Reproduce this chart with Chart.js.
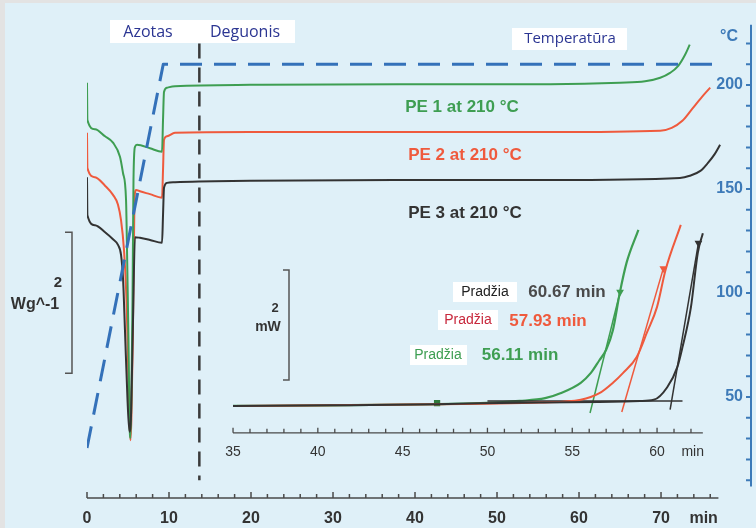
<!DOCTYPE html>
<html>
<head>
<meta charset="utf-8">
<script src="https://cdn.jsdelivr.net/npm/chart.js@4.4.1/dist/chart.umd.min.js"></script>
<style>
  html, body { margin: 0; padding: 0; background: #e3e3e3; }
  canvas { display: block; }
</style>
</head>
<body>
<canvas id="dsc" width="756" height="528"></canvas>
<script>
"use strict";

/* ---------------- data ---------------- */
// main run: time in min, heat flow in W/g (arbitrary offset per curve)
const pe1Time = [0, 0.05, 0.98, 2.2, 3.17, 4.02, 4.39, 4.76, 4.9, 5.06, 5.18, 5.3, 5.41, 5.55, 5.67, 5.85, 6.1, 7.68, 9.15, 9.27, 9.39, 9.76, 10.73, 19.9, 38.2, 56.5, 65.0, 68.05, 69.9, 71.1, 72.1, 72.9, 73.5];
const pe1Heat = [5.89, 5.36, 5.23, 5.13, 5.04, 4.84, 4.61, 4.23, 3.38, 2.24, 1.11, 0.85, 1.39, 2.81, 4.51, 4.98, 5.01, 4.96, 4.91, 5.36, 5.76, 5.82, 5.84, 5.86, 5.87, 5.87, 5.89, 5.91, 5.96, 6.03, 6.13, 6.28, 6.43];
const pe2Time = [0, 0.05, 0.98, 2.2, 3.17, 3.78, 4.15, 4.51, 4.82, 5.0, 5.18, 5.3, 5.41, 5.6, 5.79, 5.98, 6.46, 7.68, 9.15, 9.27, 9.39, 9.76, 10.73, 19.9, 38.2, 56.5, 69.9, 71.3, 72.6, 73.8, 75.0, 76.0];
const pe2Heat = [5.18, 4.68, 4.55, 4.43, 4.30, 4.16, 3.94, 3.52, 2.81, 1.96, 1.11, 0.82, 1.11, 2.38, 4.23, 4.37, 4.35, 4.31, 4.26, 4.65, 5.08, 5.13, 5.18, 5.19, 5.19, 5.19, 5.21, 5.25, 5.35, 5.52, 5.69, 5.82];
const pe3Time = [0, 0.05, 0.98, 2.2, 3.17, 3.78, 4.15, 4.4, 4.63, 4.94, 5.18, 5.37, 5.61, 5.85, 6.46, 7.68, 9.15, 9.27, 9.39, 9.76, 10.73, 19.9, 38.2, 56.5, 72.3, 73.5, 74.8, 75.7, 76.5, 77.2];
const pe3Heat = [4.55, 4.01, 3.87, 3.77, 3.67, 3.59, 3.45, 3.10, 2.38, 1.39, 0.94, 1.18, 2.52, 3.70, 3.69, 3.66, 3.62, 4.01, 4.40, 4.47, 4.48, 4.50, 4.51, 4.51, 4.54, 4.57, 4.64, 4.75, 4.87, 5.01];

// programmed temperature, °C
const tempTime = [0, 9.3, 76.8];
const tempVals = [25.5, 210, 210];

// gas switch (nitrogen -> oxygen), min
const switchTime = 13.7;

// inset: time in min, power in mW
const in1Time = [35, 40.7, 47.0, 49.6, 51.9, 53.4, 54.3, 55.5, 56.1, 56.6, 57.0, 57.4, 57.8, 58.2, 58.9];
const in1Power = [0.02, 0.03, 0.05, 0.07, 0.11, 0.16, 0.25, 0.44, 0.62, 0.85, 1.04, 1.40, 2.07, 2.62, 3.22];
const in2Time = [35, 40.7, 47.0, 49.6, 53.1, 55.5, 56.6, 57.4, 58.0, 58.8, 59.4, 60.0, 60.5, 61.4];
const in2Power = [0.02, 0.03, 0.05, 0.06, 0.08, 0.13, 0.25, 0.44, 0.62, 0.91, 1.35, 1.82, 2.49, 3.31];
const in3Time = [35, 40.7, 47.0, 49.6, 56.6, 59.0, 59.8, 60.6, 61.2, 61.5, 62.0, 62.4, 62.7];
const in3Power = [0.02, 0.03, 0.05, 0.07, 0.09, 0.11, 0.13, 0.36, 0.73, 1.09, 1.82, 2.80, 3.16];

// onset tangents
const tan1Time = [56.05, 57.82];
const tan1Power = [-0.11, 2.09];
const tan2Time = [57.92, 60.37];
const tan2Power = [-0.09, 2.52];
const tan3Time = [60.77, 62.44];
const tan3Power = [-0.05, 2.98];
const base3Time = [50.0, 61.5];
const base3Power = [0.11, 0.11];
const markTime = [47.03];
const markPower = [0.07];

const onsetLabels = ["60.67 min", "57.93 min", "56.11 min"];
const seriesNames = ["PE 1 at 210 °C", "PE 2 at 210 °C", "PE 3 at 210 °C"];

// axes ticks
const mainTicks = [0, 10, 20, 30, 40, 50, 60, 70];
const insetTicks = [35, 40, 45, 50, 55, 60];
const tempTicks = [50, 100, 150, 200];

/* ---------------- look ---------------- */
const COL = {
    green: "#3e9e52",
    red: "#ef5a3d",
    black: "#333333",
    blue: "#3471b9",
    axisBlue: "#3d7ab8",
    navy: "#2b3592",
    bg: "#dff0f8",
    frame: "#e3e3e3"
};
const SANS = "'Liberation Sans', Arial, sans-serif";
const OPEN = "'Open Sans', sans-serif";
const INSET_AXIS_MW = -0.47;   // inset time axis sits here (mW units)

function pts(xs, ys) {
    return xs.map((x, i) => ({ x, y: ys[i] }));
}

function line(label, xs, ys, color, xAxisID, yAxisID, extra) {
    return Object.assign({
        label,
        data: pts(xs, ys),
        xAxisID,
        yAxisID,
        borderColor: color,
        backgroundColor: color,
        borderWidth: 2,
        pointRadius: 0,
        fill: false,
        cubicInterpolationMode: "monotone"
    }, extra || {});
}

const tipStyle = (n) => ({
    pointRadius: (c) => (c.dataIndex === n - 1 ? 3 : 0),
    pointStyle: "triangle",
    rotation: 180,
    borderWidth: 1.5,
    cubicInterpolationMode: "default",
    tension: 0
});

/* ---------------- drawing helpers ---------------- */
function text(c, s, x, y, font, color, align) {
    c.font = font;
    c.fillStyle = color;
    c.textAlign = align || "center";
    c.textBaseline = "middle";
    c.fillText(s, x, y);
}

function box(c, x0, y0, x1, y1) {
    c.fillStyle = "#ffffff";
    c.fillRect(x0, y0, x1 - x0, y1 - y0);
}

function bracket(c, px, top, bottom, arm) {
    c.beginPath();
    c.moveTo(px - arm, top);
    c.lineTo(px, top);
    c.lineTo(px, bottom);
    c.lineTo(px - arm, bottom);
    c.stroke();
}

const decor = {
    id: "decor",
    beforeDraw(chart) {
        const c = chart.ctx;
        c.save();
        c.fillStyle = COL.frame;
        c.fillRect(0, 0, chart.width, chart.height);
        c.fillStyle = COL.bg;
        c.fillRect(5, 3, chart.width - 5, chart.height - 3);
        c.restore();
    },
    afterDatasetsDraw(chart) {
        const c = chart.ctx;
        const { x, xIn, yT, yDsc, yIn } = chart.scales;
        const area = chart.chartArea;
        c.save();
        c.lineCap = "butt";

        /* main time axis */
        const yAx = area.bottom;
        c.strokeStyle = "#4a4a4a";
        c.lineWidth = 1.5;
        c.beginPath();
        c.moveTo(x.getPixelForValue(0), yAx);
        c.lineTo(x.getPixelForValue(77), yAx);
        for (let t = 0; t <= 76; t += 2) {
            const px = x.getPixelForValue(t);
            c.moveTo(px, yAx);
            c.lineTo(px, yAx - (t % 10 === 0 ? 6 : 4));
        }
        c.stroke();
        mainTicks.forEach(t => text(c, String(t), x.getPixelForValue(t), yAx + 21, "bold 16px " + SANS, "#333"));
        text(c, "min", x.getPixelForValue(75.2), yAx + 21, "bold 16px " + SANS, "#333");

        /* inset time axis */
        const yIa = yIn.getPixelForValue(INSET_AXIS_MW);
        c.lineWidth = 1.3;
        c.beginPath();
        c.moveTo(xIn.getPixelForValue(35), yIa);
        c.lineTo(xIn.getPixelForValue(62.7), yIa);
        for (let t = 35; t <= 62; t += 1) {
            const px = xIn.getPixelForValue(t);
            c.moveTo(px, yIa);
            c.lineTo(px, yIa - (t % 5 === 0 ? 5 : 4));
        }
        c.stroke();
        insetTicks.forEach(t => text(c, String(t), xIn.getPixelForValue(t), yIa + 19, "14px " + SANS, "#333"));
        text(c, "min", xIn.getPixelForValue(62.1), yIa + 19, "14px " + SANS, "#333");

        /* temperature axis (right) */
        const xr = area.right + 1;
        c.strokeStyle = COL.axisBlue;
        c.lineWidth = 2;
        c.beginPath();
        c.moveTo(xr, yT.getPixelForValue(7));
        c.lineTo(xr, yT.getPixelForValue(229));
        for (let v = 10; v <= 220; v += 10) {
            const py = yT.getPixelForValue(v);
            c.moveTo(xr, py);
            c.lineTo(xr - 5, py);
        }
        c.stroke();
        tempTicks.forEach(v => text(c, String(v), xr - 8, yT.getPixelForValue(v), "bold 16px " + SANS, COL.axisBlue, "right"));
        text(c, "°C", 729, 37, "bold 16px " + SANS, COL.axisBlue);

        /* scale bars */
        c.strokeStyle = "#555";
        c.lineWidth = 1.5;
        bracket(c, x.getPixelForValue(-1.83), yDsc.getPixelForValue(3.77), yDsc.getPixelForValue(1.77), 7);
        text(c, "2", 58, 283, "bold 15px " + SANS, "#333");
        text(c, "Wg^-1", 35, 305, "bold 16px " + SANS, "#333");
        bracket(c, xIn.getPixelForValue(38.3), yIn.getPixelForValue(2.49), yIn.getPixelForValue(0.49), 6);
        text(c, "2", 275, 308, "bold 13px " + SANS, "#333");
        text(c, "mW", 268, 327, "bold 14px " + SANS, "#333");

        /* gas / temperature labels */
        box(c, 110, 20, 295, 43);
        text(c, "Azotas", 148, 32, "16px " + OPEN, COL.navy);
        text(c, "Deguonis", 245, 32, "16px " + OPEN, COL.navy);
        box(c, 512, 28, 627, 50);
        text(c, "Temperatūra", 570, 39, "15px " + OPEN, COL.navy);

        /* series labels */
        text(c, seriesNames[0], 462, 107, "bold 17px " + SANS, COL.green);
        text(c, seriesNames[1], 465, 155, "bold 17px " + SANS, COL.red);
        text(c, seriesNames[2], 465, 213, "bold 17px " + SANS, COL.black);

        /* onset labels */
        box(c, 453, 282, 517, 302);
        text(c, "Pradžia", 485, 292, "14px " + SANS, "#222");
        text(c, onsetLabels[0], 567, 292, "bold 17px " + SANS, "#4a4a4a");
        box(c, 438, 310, 498, 330);
        text(c, "Pradžia", 468, 320, "14px " + SANS, "#c8283c");
        text(c, onsetLabels[1], 548, 321, "bold 17px " + SANS, COL.red);
        box(c, 410, 345, 467, 365);
        text(c, "Pradžia", 438, 355, "14px " + SANS, COL.green);
        text(c, onsetLabels[2], 520, 355, "bold 17px " + SANS, COL.green);

        c.restore();
    }
};

/* ---------------- chart ---------------- */
const datasets = [
    line("Temperatūra", tempTime, tempVals, COL.blue, "x", "yT", {
        borderWidth: 3, borderDash: [22, 12], cubicInterpolationMode: "default", tension: 0
    }),
    line("switch", [switchTime, switchTime], [220, 10], "#3a3a3a", "x", "yT", {
        borderWidth: 2.5, borderDash: [15, 9], cubicInterpolationMode: "default", tension: 0
    }),
    line(seriesNames[2], pe3Time, pe3Heat, COL.black, "x", "yDsc"),
    line(seriesNames[0], pe1Time, pe1Heat, COL.green, "x", "yDsc"),
    line(seriesNames[1], pe2Time, pe2Heat, COL.red, "x", "yDsc"),

    line("inset PE 3", in3Time, in3Power, COL.black, "xIn", "yIn"),
    line("inset PE 2", in2Time, in2Power, COL.red, "xIn", "yIn"),
    line("base PE 3", base3Time, base3Power, COL.black, "xIn", "yIn", { borderWidth: 1.5, tension: 0 }),
    line("inset PE 1", in1Time, in1Power, COL.green, "xIn", "yIn", { borderWidth: 2.2 }),
    line("tangent PE 3", tan3Time, tan3Power, COL.black, "xIn", "yIn", tipStyle(tan3Time.length)),
    line("tangent PE 2", tan2Time, tan2Power, COL.red, "xIn", "yIn", tipStyle(tan2Time.length)),
    line("tangent PE 1", tan1Time, tan1Power, COL.green, "xIn", "yIn", tipStyle(tan1Time.length)),
    line("mark", markTime, markPower, "#2f7a3c", "xIn", "yIn", {
        showLine: false, pointRadius: 3, pointStyle: "rect"
    })
];

const hidden = { display: false, type: "linear" };

new Chart(document.getElementById("dsc"), {
    type: "line",
    data: { datasets },
    options: {
        responsive: false,
        devicePixelRatio: 1,
        animation: false,
        layout: { padding: { left: 87, right: 6, top: 25, bottom: 30 } },
        plugins: { legend: { display: false }, tooltip: { enabled: false } },
        elements: { line: { borderCapStyle: "butt", borderJoinStyle: "round" } },
        scales: {
            x:    Object.assign({}, hidden, { min: 0, max: 80.85 }),
            xIn:  Object.assign({}, hidden, { min: 26.39, max: 65.48 }),
            yT:   Object.assign({}, hidden, { min: 1.44, max: 228.85 }),
            yDsc: Object.assign({}, hidden, { min: 0, max: 6.709 }),
            yIn:  Object.assign({}, hidden, { min: -1.6545, max: 6.945 })
        }
    },
    plugins: [decor]
});
</script>
</body>
</html>
